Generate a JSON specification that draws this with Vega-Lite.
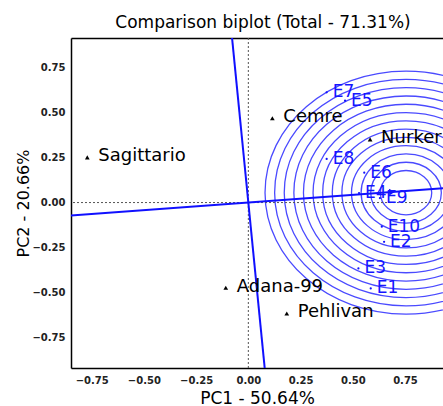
{
  "$schema": "https://vega.github.io/schema/vega-lite/v6.json",
  "autosize": "none",
  "padding": {"left": 71, "top": 38, "right": 0, "bottom": 38},
  "width": 372,
  "height": 330,
  "background": "white",
  "title": {"text": "Comparison biplot (Total - 71.31%)", "font": "DejaVu Sans", "fontSize": 17, "fontWeight": "normal", "color": "black", "anchor": "middle", "offset": 6, "dx": 6},
  "config": {
    "view": {"stroke": null},
    "axis": {"grid": false, "ticks": false, "tickSize": 0, "domainColor": "black", "domainWidth": 1.5, "labelFont": "DejaVu Sans", "labelFontSize": 10, "labelFontWeight": "bold", "labelColor": "#222222", "titleFont": "DejaVu Sans", "titleFontWeight": "normal", "titleColor": "black", "labelOverlap": false}
  },
  "datasets": {
    "circles": [
      {"cx": 0.755, "cy": 0.055, "r": 0.123},
      {"cx": 0.755, "cy": 0.055, "r": 0.169},
      {"cx": 0.755, "cy": 0.055, "r": 0.215},
      {"cx": 0.755, "cy": 0.055, "r": 0.261},
      {"cx": 0.755, "cy": 0.055, "r": 0.307},
      {"cx": 0.755, "cy": 0.055, "r": 0.353},
      {"cx": 0.755, "cy": 0.055, "r": 0.399},
      {"cx": 0.755, "cy": 0.055, "r": 0.445},
      {"cx": 0.755, "cy": 0.055, "r": 0.491},
      {"cx": 0.755, "cy": 0.055, "r": 0.537},
      {"cx": 0.755, "cy": 0.055, "r": 0.583},
      {"cx": 0.755, "cy": 0.055, "r": 0.629},
      {"cx": 0.755, "cy": 0.055, "r": 0.675}
    ],
    "axesLines": [
      {"x": -0.86, "y": -0.0733, "x2": 1.0, "y2": 0.0852, "line": "AEA"},
      {"x": -0.0784, "y": 0.92, "x2": 0.0784, "y2": -0.92, "line": "ATC"}
    ],
    "arrow": [{"x": 0.688, "y": 0.059}],
    "genotypes": [
      {"x": -0.771, "y": 0.251, "label": "Sagittario"},
      {"x": 0.115, "y": 0.468, "label": "Cemre"},
      {"x": -0.108, "y": -0.473, "label": "Adana-99"},
      {"x": 0.184, "y": -0.616, "label": "Pehlivan"},
      {"x": 0.583, "y": 0.351, "label": "Nurker"}
    ],
    "environments": [
      {"x": 0.375, "y": 0.612, "label": "E7"},
      {"x": 0.463, "y": 0.566, "label": "E5"},
      {"x": 0.375, "y": 0.242, "label": "E8"},
      {"x": 0.555, "y": 0.166, "label": "E6"},
      {"x": 0.53, "y": 0.053, "label": "E4"},
      {"x": 0.63, "y": 0.025, "label": "E9"},
      {"x": 0.639, "y": -0.134, "label": "E10"},
      {"x": 0.65, "y": -0.218, "label": "E2"},
      {"x": 0.527, "y": -0.366, "label": "E3"},
      {"x": 0.586, "y": -0.477, "label": "E1"}
    ]
  },
  "resolve": {"axis": {"x": "independent", "y": "independent"}},
  "layer": [
    {
      "data": {"name": "circles"},
      "mark": {"type": "point", "shape": "M-1,0A1,0.8617,0,1,1,1,0A1,0.8617,0,1,1,-1,0Z", "filled": false, "stroke": "#4a4aff", "strokeWidth": 1.3, "opacity": 1, "clip": true},
      "encoding": {
        "x": {"field": "cx", "type": "quantitative", "scale": {"domain": [-0.849, 0.932], "nice": false, "zero": false},
              "axis": {"orient": "bottom", "title": "PC1 - 50.64%", "titleFontSize": 17, "titlePadding": 5, "labelPadding": 7, "values": [-0.75, -0.5, -0.25, 0, 0.25, 0.5, 0.75], "format": ".2f"}},
        "y": {"field": "cy", "type": "quantitative", "scale": {"domain": [-0.919, 0.914], "nice": false, "zero": false},
              "axis": {"orient": "left", "title": "PC2 - 20.66%", "titleFontSize": 16, "titlePadding": 0, "labelPadding": 6, "values": [-0.75, -0.5, -0.25, 0, 0.25, 0.5, 0.75], "format": ".2f"}},
        "size": {"field": "r", "type": "quantitative", "scale": {"type": "pow", "exponent": 2, "domain": [0, 1], "range": [0, 174556]}, "legend": null}
      }
    },
    {
      "data": {"values": [{"x": 0}]},
      "mark": {"type": "rule", "color": "#555555", "strokeWidth": 1, "strokeDash": [2, 2]},
      "encoding": {
        "x": {"field": "x", "type": "quantitative", "scale": {"domain": [-0.849, 0.932], "nice": false, "zero": false},
              "axis": {"orient": "top", "title": null, "labels": false, "ticks": false, "domain": true}}
      }
    },
    {
      "data": {"values": [{"y": 0}]},
      "mark": {"type": "rule", "color": "#555555", "strokeWidth": 1, "strokeDash": [2, 2]},
      "encoding": {
        "y": {"field": "y", "type": "quantitative", "scale": {"domain": [-0.919, 0.914], "nice": false, "zero": false}, "axis": null}
      }
    },
    {
      "data": {"name": "axesLines"},
      "mark": {"type": "rule", "color": "#1010ff", "strokeWidth": 2, "clip": true},
      "encoding": {
        "x": {"field": "x", "type": "quantitative", "scale": {"domain": [-0.849, 0.932], "nice": false, "zero": false}, "axis": null},
        "y": {"field": "y", "type": "quantitative", "scale": {"domain": [-0.919, 0.914], "nice": false, "zero": false}, "axis": null},
        "x2": {"field": "x2"},
        "y2": {"field": "y2"}
      }
    },
    {
      "data": {"name": "arrow"},
      "mark": {"type": "point", "shape": "triangle-right", "filled": true, "color": "#1010ff", "size": 45, "angle": -4.2, "opacity": 1},
      "encoding": {
        "x": {"field": "x", "type": "quantitative", "scale": {"domain": [-0.849, 0.932], "nice": false, "zero": false}, "axis": null},
        "y": {"field": "y", "type": "quantitative", "scale": {"domain": [-0.919, 0.914], "nice": false, "zero": false}, "axis": null}
      }
    },
    {
      "data": {"name": "environments"},
      "mark": {"type": "point", "shape": "circle", "filled": true, "color": "#1010ff", "size": 5, "opacity": 1},
      "encoding": {
        "x": {"field": "x", "type": "quantitative", "scale": {"domain": [-0.849, 0.932], "nice": false, "zero": false}, "axis": null},
        "y": {"field": "y", "type": "quantitative", "scale": {"domain": [-0.919, 0.914], "nice": false, "zero": false}, "axis": null}
      }
    },
    {
      "data": {"name": "environments"},
      "mark": {"type": "text", "align": "left", "baseline": "middle", "dx": 6, "dy": 0, "font": "DejaVu Sans", "fontSize": 17, "color": "#1515ff"},
      "encoding": {
        "x": {"field": "x", "type": "quantitative", "scale": {"domain": [-0.849, 0.932], "nice": false, "zero": false}, "axis": null},
        "y": {"field": "y", "type": "quantitative", "scale": {"domain": [-0.919, 0.914], "nice": false, "zero": false}, "axis": null},
        "text": {"field": "label"}
      }
    },
    {
      "data": {"name": "genotypes"},
      "mark": {"type": "point", "shape": "triangle-up", "filled": true, "color": "black", "size": 22, "opacity": 1},
      "encoding": {
        "x": {"field": "x", "type": "quantitative", "scale": {"domain": [-0.849, 0.932], "nice": false, "zero": false}, "axis": null},
        "y": {"field": "y", "type": "quantitative", "scale": {"domain": [-0.919, 0.914], "nice": false, "zero": false}, "axis": null}
      }
    },
    {
      "data": {"name": "genotypes"},
      "mark": {"type": "text", "align": "left", "baseline": "middle", "dx": 11, "dy": -1, "font": "DejaVu Sans", "fontSize": 18, "color": "black"},
      "encoding": {
        "x": {"field": "x", "type": "quantitative", "scale": {"domain": [-0.849, 0.932], "nice": false, "zero": false}, "axis": null},
        "y": {"field": "y", "type": "quantitative", "scale": {"domain": [-0.919, 0.914], "nice": false, "zero": false}, "axis": null},
        "text": {"field": "label"}
      }
    }
  ]
}
